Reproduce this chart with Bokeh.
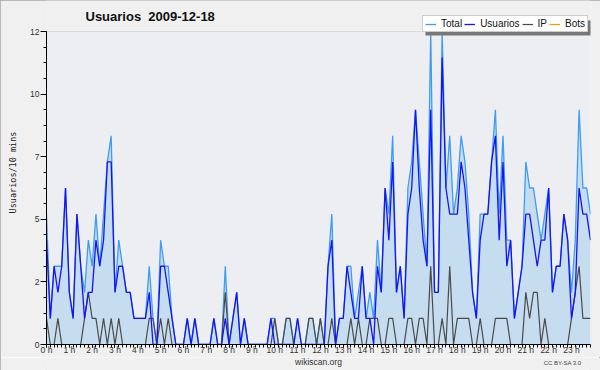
import math
from bokeh.plotting import figure
from bokeh.layouts import column
from bokeh.models import (FixedTicker, Label, Range1d, Legend, LegendItem,
                          ColumnDataSource, BoxAnnotation)
from bokeh.embed import file_html
from bokeh.resources import INLINE

# ---- data (10-minute slots, 2009-12-18) ----
slot_minutes = list(range(0, 1440, 10))
hour_labels = [f"{h} h" for h in range(24)]
y_tick_values = [0, 2.4, 4.8, 7.2, 9.6, 12]
y_tick_labels = ["0", "2", "5", "7", "10", "12"]

total = [5, 1, 3, 3, 3, 6, 2, 1, 5, 3, 2, 4, 3, 5, 3, 5, 7, 8, 2, 4, 3, 2, 2, 1,
         1, 1, 1, 3, 1, 0, 4, 3, 3, 1, 0, 0, 0, 1, 0, 1, 0, 0, 0, 0, 1, 0, 0, 3,
         0, 1, 2, 0, 1, 0, 0, 0, 0, 0, 0, 1, 1, 0, 0, 1, 1, 0, 1, 0, 0, 1, 1, 0,
         1, 0, 3, 5, 0, 1, 1, 3, 3, 1, 2, 3, 1, 2, 1, 4, 2, 6, 5, 8, 2, 3, 1, 6,
         7, 9, 7, 5, 3, 12, 2, 2, 12, 6, 8, 5, 6, 8, 7, 5, 2, 1, 5, 5, 5, 7, 9, 5,
         8, 4, 4, 1, 2, 3, 7, 6, 6, 5, 4, 5, 6, 2, 3, 3, 5, 4, 2, 4, 9, 6, 6, 5]
usuarios = [4, 1, 3, 2, 3, 6, 2, 1, 5, 3, 1, 2, 2, 4, 3, 4, 7, 7, 2, 3, 3, 2, 2, 1,
            1, 1, 1, 2, 0, 0, 3, 3, 2, 1, 0, 0, 0, 1, 0, 1, 0, 0, 0, 0, 1, 0, 0, 1,
            0, 1, 2, 0, 1, 0, 0, 0, 0, 0, 0, 1, 0, 0, 0, 0, 0, 0, 1, 0, 0, 0, 0, 0,
            0, 0, 3, 4, 0, 1, 1, 3, 2, 1, 1, 3, 1, 1, 0, 3, 2, 6, 4, 7, 2, 3, 1, 5,
            6, 9, 6, 4, 3, 9, 2, 2, 11, 6, 5, 5, 5, 7, 6, 4, 2, 1, 4, 5, 5, 7, 8, 4,
            7, 3, 4, 1, 2, 3, 5, 5, 4, 3, 4, 4, 6, 2, 3, 3, 5, 4, 1, 2, 6, 5, 5, 4]
ip = [1, 0, 0, 1, 0, 0, 0, 0, 0, 0, 1, 2, 1, 1, 0, 1, 0, 1, 0, 1, 0, 0, 0, 0,
      0, 0, 0, 1, 1, 0, 1, 0, 1, 0, 0, 0, 0, 0, 0, 0, 0, 0, 0, 0, 0, 0, 0, 2,
      0, 0, 0, 0, 0, 0, 0, 0, 0, 0, 0, 0, 1, 0, 0, 1, 1, 0, 0, 0, 0, 1, 1, 0,
      1, 0, 0, 1, 0, 0, 0, 0, 1, 0, 1, 0, 0, 1, 1, 1, 0, 0, 1, 1, 0, 0, 0, 1,
      1, 0, 1, 1, 0, 3, 0, 0, 1, 0, 3, 0, 1, 1, 1, 1, 0, 0, 1, 0, 0, 0, 1, 1,
      1, 1, 0, 0, 0, 0, 2, 1, 2, 2, 0, 1, 0, 0, 0, 0, 0, 0, 1, 2, 3, 1, 1, 1]
bots = [0, 0, 0, 0, 0, 0, 0, 0, 0, 0, 0, 0, 0, 0, 0, 0, 0, 0, 0, 0, 0, 0, 0, 0,
        0, 0, 0, 0, 0, 0, 0, 0, 0, 0, 0, 0, 0, 0, 0, 0, 0, 0, 0, 0, 0, 0, 0, 0,
        0, 0, 0, 0, 0, 0, 0, 0, 0, 0, 0, 0, 0, 0, 0, 0, 0, 0, 0, 0, 0, 0, 0, 0,
        0, 0, 0, 0, 0, 0, 0, 0, 0, 0, 0, 0, 0, 0, 0, 0, 0, 0, 0, 0, 0, 0, 0, 0,
        0, 0, 0, 0, 0, 0, 0, 0, 0, 0, 0, 0, 0, 0, 0, 0, 0, 0, 0, 0, 0, 0, 0, 0,
        0, 0, 0, 0, 0, 0, 0, 0, 0, 0, 0, 0, 0, 0, 0, 0, 0, 0, 0, 0, 0, 0, 0, 0]

x_hours = [m / 60 for m in slot_minutes]
src = ColumnDataSource(dict(x=x_hours, total=total, usuarios=usuarios, ip=ip, bots=bots))

FONT = "Liberation Sans"
OUTER = "#f0f0f0"
PLOT_BG = "#eceef1"

# frame: x 46..590, y 0..344 (value 12 sits at y=31; the strip above holds title/legend)
Y_TOP = 12 * 344 / 313

p = figure(width=600, height=357, output_backend="svg", toolbar_location=None,
           title=None,
           x_range=Range1d(0, x_hours[-1]), y_range=Range1d(0, Y_TOP),
           min_border_left=46, min_border_right=10, min_border_top=0, min_border_bottom=13,
           background_fill_color=OUTER, border_fill_color=OUTER)
p.outline_line_color = None

# plot-area background (0..12)
p.add_layout(BoxAnnotation(left=0, right=x_hours[-1], bottom=0, top=12,
                           fill_color=PLOT_BG, fill_alpha=1.0, line_color=None,
                           level="underlay"))

# area + lines
r_bots = p.line("x", "bots", source=src, line_color="#ff9900", line_width=1.2)
p.varea(x="x", y1=0, y2="total", source=src, fill_color="#c6dcef", fill_alpha=1.0)
r_total = p.line("x", "total", source=src, line_color="#3d9df2", line_width=1.3)
r_ip = p.line("x", "ip", source=src, line_color="#4a4a4a", line_width=1.2)
r_usu = p.line("x", "usuarios", source=src, line_color="#1414f5", line_width=1.3)

# axes
p.xaxis.ticker = FixedTicker(ticks=list(range(24)), minor_ticks=x_hours)
p.xaxis.major_label_overrides = {h: lab for h, lab in enumerate(hour_labels)}
p.yaxis.ticker = FixedTicker(ticks=y_tick_values,
                             minor_ticks=[k * 0.6 for k in range(21)])
p.yaxis.major_label_overrides = {v: lab for v, lab in zip(y_tick_values, y_tick_labels)}
p.yaxis.bounds = (0, 12)

for ax in (p.xaxis, p.yaxis):
    ax.axis_line_color = "black"
    ax.axis_line_width = 1
    ax.major_tick_line_color = "black"
    ax.minor_tick_line_color = "black"
    ax.major_tick_in = 0
    ax.minor_tick_in = 0
    ax.major_label_text_font = FONT
    ax.major_label_text_font_size = "8.5px"
    ax.major_label_text_color = "#333333"
p.xaxis.major_tick_out = 3
p.xaxis.minor_tick_out = 3
p.xaxis.major_label_standoff = -3
p.yaxis.major_tick_out = 6
p.yaxis.minor_tick_out = 3
p.yaxis.major_label_standoff = 1
p.yaxis.axis_label = "Usuarios/10 mins"
p.yaxis.axis_label_text_font = "DejaVu Sans Mono"
p.yaxis.axis_label_text_font_size = "8.5px"
p.yaxis.axis_label_text_font_style = "normal"
p.yaxis.axis_label_text_color = "#222222"
p.yaxis.axis_label_standoff = 9

p.xgrid.grid_line_color = None
p.ygrid.ticker = FixedTicker(ticks=y_tick_values[1:])
p.ygrid.grid_line_color = "#c9c9c9"
p.ygrid.grid_line_width = 1

# title (inside the frame strip above 12; screen units from frame bottom-left)
p.add_layout(Label(x=39, y=328, x_units="screen", y_units="screen",
                   text="Usuarios\u00a0\u00a02009-12-18", text_font=FONT, text_font_size="13px",
                   text_font_style="bold", text_color="#111111",
                   text_baseline="middle", text_align="left"))

# legend shadow + legend
p.add_layout(BoxAnnotation(left=379, right=547, top=324, bottom=309,
                           left_units="screen", right_units="screen",
                           top_units="screen", bottom_units="screen",
                           fill_color="#777777", fill_alpha=1.0, line_color=None,
                           level="annotation"))
legend = Legend(items=[LegendItem(label="Total", renderers=[r_total]),
                       LegendItem(label="Usuarios", renderers=[r_usu]),
                       LegendItem(label="IP", renderers=[r_ip]),
                       LegendItem(label="Bots", renderers=[r_bots])],
                orientation="horizontal", location=(376, 312),
                label_text_font=FONT, label_text_font_size="10px",
                label_text_color="#111111",
                glyph_width=11, glyph_height=10, label_standoff=5, spacing=2,
                padding=2, margin=0, label_height=10, label_width=0,
                border_line_color="#999999", border_line_width=1,
                background_fill_color="white", background_fill_alpha=1.0)
p.add_layout(legend, "center")

# footer strip with the credits
foot = figure(width=600, height=13, output_backend="svg", toolbar_location=None,
              title=None, x_axis_type=None, y_axis_type=None,
              x_range=Range1d(0, 600), y_range=Range1d(0, 13),
              min_border=0, background_fill_color=OUTER, border_fill_color=OUTER)
foot.outline_line_color = None
foot.grid.visible = False
foot.add_layout(Label(x=300, y=9, text="wikiscan.org", text_font=FONT,
                      text_font_size="8.5px", text_color="#333333",
                      text_baseline="middle", text_align="center"))
foot.add_layout(Label(x=590, y=8, text="CC BY-SA 3.0", text_font=FONT,
                      text_font_size="6px", text_color="#444444",
                      text_baseline="middle", text_align="right"))

layout = column(p, foot, spacing=0)
layout.styles = {"outline": "1px solid #a8a8a8", "outline-offset": "-1px"}
open("out.html", "w").write(file_html(layout, INLINE))
